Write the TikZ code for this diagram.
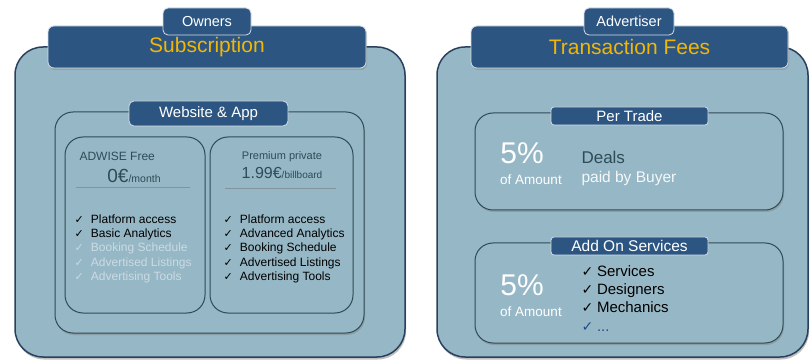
\documentclass[tikz,border=0pt]{standalone}
\usepackage{fontspec}
\setmainfont{Liberation Sans}
\newfontfamily\symfont{DejaVu Sans}
\usetikzlibrary{positioning,shadows}

\definecolor{panelfill}{HTML}{96B7C5}
\definecolor{paneledge}{HTML}{2A405F}
\definecolor{barfill}{HTML}{2C5582}
\definecolor{gold}{HTML}{F2B705}
\definecolor{slate}{HTML}{2E4B58}
\definecolor{faded}{HTML}{CBDBE3}
\definecolor{dotblue}{HTML}{1F4E8C}

\newcommand{\fs}[1]{\fontsize{#1}{#1}\selectfont}
\newcommand{\chk}{{\symfont\fs{11}✓}\hspace{0.6em}}
\newcommand{\chkb}{{\symfont\fs{14}✓}\hspace{0.25em}}

\tikzset{
  panel/.style={draw=paneledge, line width=1.5pt, fill=panelfill, rounded corners=28pt,
    drop shadow={opacity=0.5, shadow xshift=1pt, shadow yshift=-2.5pt}, inner sep=0pt},
  bar/.style={draw=white!80!barfill, line width=0.8pt, fill=barfill, rounded corners=6pt,
    drop shadow={opacity=0.4, shadow xshift=1pt, shadow yshift=-2pt},
    text=gold, font=\fs{21}, inner sep=0pt},
  tab/.style={draw=white!80!barfill, line width=0.8pt, fill=barfill, rounded corners=5pt,
    text=white, inner sep=0pt},
  box/.style={draw=slate, line width=1pt, fill=panelfill, rounded corners=18pt, inner sep=0pt},
  sbox/.style={box, drop shadow={opacity=0.45, shadow xshift=1pt, shadow yshift=-2pt}},
  big/.style={text=white, font=\fs{30}},
  small/.style={text=white, font=\fs{13.5}},
}

\begin{document}
\begin{tikzpicture}[x=1pt, y=-1pt]
  \useasboundingbox[fill=white] (0,0) rectangle (811,363);

  % left: subscription
  \node[panel, minimum width=390pt, minimum height=310pt] (subpanel) at (210,202) {};
  \node[bar, minimum width=318pt, minimum height=42pt] (subbar) at (207,47) {Subscription};
  \node[tab, minimum width=88pt, minimum height=27pt, font=\fs{14.5}] (owners) at (207,21.5) {Owners};

  \node[sbox, minimum width=309pt, minimum height=221pt] (webbox) at (209.5,222.5) {};
  \node[tab, minimum width=159pt, minimum height=25pt, font=\fs{15}] (webtab) at (208.5,113.5) {Website \& App};

  \node[box, minimum width=140pt, minimum height=176pt] (freebox) at (135,225) {};
  \node[box, minimum width=143pt, minimum height=176pt] (premiumbox) at (281.5,225) {};

  % free plan (list anchored on its last baseline)
  \node[anchor=west, text=slate, font=\fs{12}] (freename) at (76,156) {ADWISE Free};
  \node[text=slate] (freeprice) at (134,176) {{\fs{19}0€}{\fs{10.5}/month}};
  \draw[slate!60, line width=0.8pt] (76,187) -- (190,187);
  \node[anchor=base west, align=left, font=\fontsize{12}{14.5}\selectfont] (freelist) at (71,281)
    {\chk Platform access\\
     \chk Basic Analytics\\
     \color{faded}\chk Booking Schedule\\
     \color{faded}\chk Advertised Listings\\
     \color{faded}\chk Advertising Tools};

  % premium plan
  \node[text=slate, font=\fs{11}] (premname) at (282,157) {Premium private};
  \node[text=slate] (premprice) at (282,173) {{\fs{16}1.99€}{\fs{10}/billboard}};
  \draw[slate!60, line width=0.8pt] (225,188) -- (336,188);
  \node[anchor=base west, align=left, font=\fontsize{12}{14.5}\selectfont] (premlist) at (220,281)
    {\chk Platform access\\
     \chk Advanced Analytics\\
     \chk Booking Schedule\\
     \chk Advertised Listings\\
     \chk Advertising Tools};

  % right: transaction fees
  \node[panel, minimum width=371pt, minimum height=310pt] (feepanel) at (622.5,202) {};
  \node[bar, minimum width=317pt, minimum height=42pt] (feebar) at (629.5,47) {Transaction Fees};
  \node[tab, minimum width=90pt, minimum height=27pt, font=\fs{14.5}] (advertiser) at (629,21.5) {Advertiser};

  \node[sbox, minimum width=308pt, minimum height=97pt] (tradebox) at (629,161.5) {};
  \node[tab, minimum width=157pt, minimum height=18pt, rounded corners=3pt, font=\fs{15}] (tradetab) at (629.5,116) {Per Trade};
  \node[big] (tradepct) at (522,153) {5\%};
  \node[small] (tradeamt) at (531,180) {of Amount};
  \node[anchor=west, text=slate, font=\fs{17}] (deals) at (578,157) {Deals};
  \node[anchor=west, text=white!90!panelfill, font=\fs{15.5}] (buyer) at (578,178) {paid by Buyer};

  \node[sbox, minimum width=308pt, minimum height=100pt] (addonbox) at (629,293) {};
  \node[tab, minimum width=157pt, minimum height=18pt, rounded corners=3pt, font=\fs{15.5}] (addontab) at (629.5,246) {Add On Services};
  \node[big] (addonpct) at (522,285) {5\%};
  \node[small] (addonamt) at (531,312) {of Amount};
  \node[anchor=base west, align=left, font=\fontsize{15}{18.3}\selectfont] (addonlist) at (578,331)
    {\chkb Services\\
     \chkb Designers\\
     \chkb Mechanics\\
     \color{dotblue}\chkb ...};
\end{tikzpicture}
\end{document}
